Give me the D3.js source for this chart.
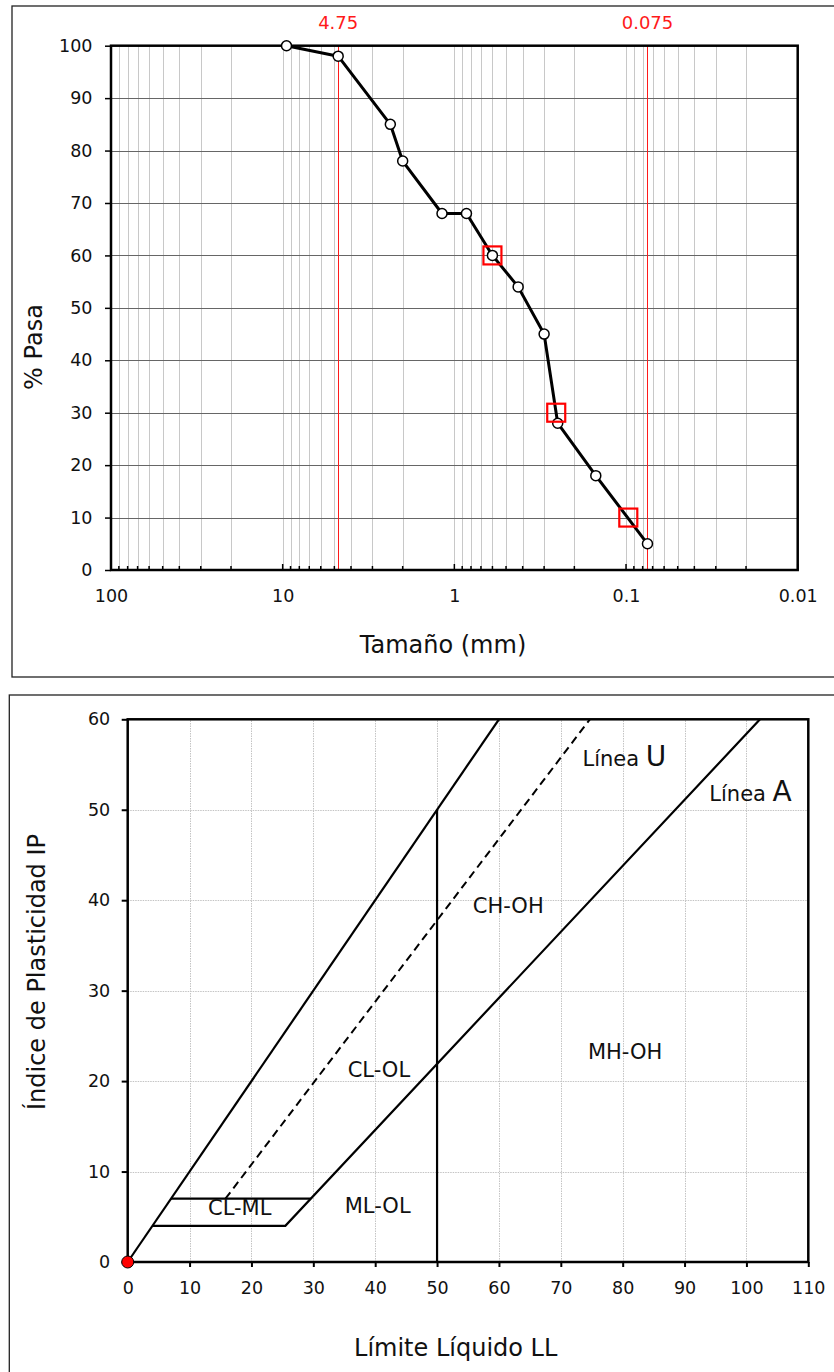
<!DOCTYPE html>
<html>
<head>
<meta charset="utf-8">
<script src="https://cdn.jsdelivr.net/npm/d3@7"></script>
<style>
body { margin: 0; background: #fff; }
text { font-family: "DejaVu Sans", Verdana, sans-serif; }
</style>
</head>
<body>
<script>
// curva granulometrica
var sieveSizes = [9.5, 4.75, 2.36, 2.0, 1.18, 0.85, 0.6, 0.425, 0.3, 0.25, 0.15, 0.075];
var percentPassing = [100, 98, 85, 78, 68, 68, 60, 54, 45, 28, 18, 5];
var dNames = ["D60", "D30", "D10"];
var dSizes = [0.60, 0.255, 0.097];
var dPercent = [60, 30, 10];
var refSizes = [4.75, 0.075];
var refLabels = ["4.75", "0.075"];
var sizeTicks = [100, 10, 1, 0.1, 0.01];
var sizeTickLabels = ["100", "10", "1", "0.1", "0.01"];
var pasaTicks = [0, 10, 20, 30, 40, 50, 60, 70, 80, 90, 100];

// carta de plasticidad
var llTicks = [0, 10, 20, 30, 40, 50, 60, 70, 80, 90, 100, 110];
var ipTicks = [0, 10, 20, 30, 40, 50, 60];
var lineaLimite = [[0, 0], [60, 60]];
var lineaA = [[4, 4], [25.48, 4], [102.2, 60]];
var lineaCLML = [[7, 7], [29.6, 7]];
var lineaU = [[15.8, 7], [74.7, 60]];
var linea50 = [[50, 0], [50, 50]];
var zoneNames = ["CH-OH", "MH-OH", "CL-OL", "ML-OL", "CL-ML"];
var zoneLL = [61.5, 80.4, 40.6, 40.4, 18.1];
var zoneIP = [39.4, 23.3, 21.3, 6.3, 6.0];
var muestraLL = [0];
var muestraIP = [0];

var svg = d3.select("body").append("svg")
    .attr("width", 834)
    .attr("height", 1372);

var tickFont = "17.5px";
var titleFont = "24px";

// ---------- grafico 1 ----------
svg.append("rect")
    .attr("x", 12).attr("y", 6)
    .attr("width", 900).attr("height", 671)
    .attr("fill", "none").attr("stroke", "#222").attr("stroke-width", 1.3);

var x1 = d3.scaleLog().domain([100, 0.01]).range([111, 797.7]);
var y1 = d3.scaleLinear().domain([0, 100]).range([570, 45.7]);

var g1 = svg.append("g");

// rejilla vertical (log)
g1.append("g").selectAll("line")
    .data(x1.ticks())
    .enter().append("line")
    .attr("x1", function(d) { return Math.round(x1(d)) + 0.5; })
    .attr("x2", function(d) { return Math.round(x1(d)) + 0.5; })
    .attr("y1", y1(0)).attr("y2", y1(100))
    .attr("stroke", "#c8c8c8").attr("stroke-width", 1);

// rejilla horizontal
g1.append("g").selectAll("line")
    .data(pasaTicks.slice(1, -1))
    .enter().append("line")
    .attr("x1", x1(100)).attr("x2", x1(0.01))
    .attr("y1", function(d) { return Math.round(y1(d)) + 0.5; })
    .attr("y2", function(d) { return Math.round(y1(d)) + 0.5; })
    .attr("stroke", "#666").attr("stroke-width", 1);

// marcas del eje x hacia adentro
g1.append("g").selectAll("line")
    .data(x1.ticks())
    .enter().append("line")
    .attr("x1", function(d) { return x1(d); })
    .attr("x2", function(d) { return x1(d); })
    .attr("y1", y1(0))
    .attr("y2", function(d) {
        var major = sizeTicks.indexOf(+d.toPrecision(3)) >= 0;
        return y1(0) - (major ? 6 : 4);
    })
    .attr("stroke", "#000").attr("stroke-width", 1.5);

// lineas rojas 4.75 y 0.075
g1.append("g").selectAll("line")
    .data(refSizes)
    .enter().append("line")
    .attr("x1", function(d) { return Math.round(x1(d)) + 0.5; })
    .attr("x2", function(d) { return Math.round(x1(d)) + 0.5; })
    .attr("y1", y1(0)).attr("y2", y1(100))
    .attr("stroke", "#ff1a1a").attr("stroke-width", 1);

g1.append("g").selectAll("text")
    .data(refSizes)
    .enter().append("text")
    .attr("x", function(d) { return x1(d); })
    .attr("y", 29)
    .attr("text-anchor", "middle")
    .style("font-size", "18px")
    .attr("fill", "#ff1a1a")
    .text(function(d, i) { return refLabels[i]; });

// ejes
var xAxis1 = d3.axisBottom(x1).tickValues(sizeTicks)
    .tickFormat(function(d, i) { return sizeTickLabels[i]; })
    .tickSize(0).tickPadding(19.5);
var xAxis1G = g1.append("g")
    .attr("transform", "translate(0," + y1(0) + ")")
    .call(xAxis1);

var yAxis1 = d3.axisLeft(y1).tickValues(pasaTicks).tickSize(6).tickPadding(12.5);
var yAxis1G = g1.append("g")
    .attr("transform", "translate(" + x1(100) + ",0)")
    .call(yAxis1);

[xAxis1G, yAxis1G].forEach(function(a) {
    a.select(".domain").remove();
    a.selectAll("text").style("font-size", tickFont).attr("fill", "#111");
    a.selectAll("line").attr("stroke", "#000").attr("stroke-width", 1.5);
});

// marco del area de trazado
g1.append("rect")
    .attr("x", x1(100)).attr("y", y1(100))
    .attr("width", x1(0.01) - x1(100)).attr("height", y1(0) - y1(100))
    .attr("fill", "none").attr("stroke", "#000").attr("stroke-width", 2.5);

// curva
var curve = sieveSizes.map(function(s, i) { return [s, percentPassing[i]]; });
g1.append("path")
    .datum(curve)
    .attr("d", d3.line()
        .x(function(d) { return x1(d[0]); })
        .y(function(d) { return y1(d[1]); }))
    .attr("fill", "none").attr("stroke", "#000")
    .attr("stroke-width", 3).attr("stroke-linejoin", "round");

g1.append("g").selectAll("circle")
    .data(curve)
    .enter().append("circle")
    .attr("cx", function(d) { return x1(d[0]); })
    .attr("cy", function(d) { return y1(d[1]); })
    .attr("r", 5)
    .attr("fill", "#fff").attr("stroke", "#000").attr("stroke-width", 1.5);

// D60, D30, D10
g1.append("g").selectAll("rect")
    .data(dNames)
    .enter().append("rect")
    .attr("x", function(d, i) { return x1(dSizes[i]) - 9; })
    .attr("y", function(d, i) { return y1(dPercent[i]) - 9; })
    .attr("width", 18).attr("height", 18)
    .attr("fill", "none").attr("stroke", "#ff0000").attr("stroke-width", 2.2);

g1.append("text")
    .attr("transform", "translate(42,347) rotate(-90)")
    .attr("text-anchor", "middle")
    .style("font-size", titleFont)
    .attr("fill", "#111")
    .text("% Pasa");

g1.append("text")
    .attr("x", 443).attr("y", 653)
    .attr("text-anchor", "middle")
    .style("font-size", titleFont)
    .attr("fill", "#111")
    .text("Tamaño (mm)");

// ---------- grafico 2 ----------
svg.append("rect")
    .attr("x", 9.3).attr("y", 695)
    .attr("width", 900).attr("height", 700)
    .attr("fill", "none").attr("stroke", "#222").attr("stroke-width", 1.3);

var x2 = d3.scaleLinear().domain([0, 110]).range([127.7, 808.3]);
var y2 = d3.scaleLinear().domain([0, 60]).range([1262, 719.3]);
var g2 = svg.append("g");

g2.append("g").selectAll("line")
    .data(llTicks.slice(1, -1))
    .enter().append("line")
    .attr("x1", function(d) { return Math.round(x2(d)) + 0.5; })
    .attr("x2", function(d) { return Math.round(x2(d)) + 0.5; })
    .attr("y1", y2(0)).attr("y2", y2(60))
    .attr("stroke", "#c4c4c4").attr("stroke-width", 1).attr("stroke-dasharray", "1.5,1");

g2.append("g").selectAll("line")
    .data(ipTicks.slice(1, -1))
    .enter().append("line")
    .attr("x1", x2(0)).attr("x2", x2(110))
    .attr("y1", function(d) { return Math.round(y2(d)) + 0.5; })
    .attr("y2", function(d) { return Math.round(y2(d)) + 0.5; })
    .attr("stroke", "#c4c4c4").attr("stroke-width", 1).attr("stroke-dasharray", "1.5,1");

var xAxis2G = g2.append("g")
    .attr("transform", "translate(0," + y2(0) + ")")
    .call(d3.axisBottom(x2).tickValues(llTicks).tickSize(5).tickPadding(14.5));
var yAxis2G = g2.append("g")
    .attr("transform", "translate(" + x2(0) + ",0)")
    .call(d3.axisLeft(y2).tickValues(ipTicks).tickSize(6).tickPadding(11.5));

[xAxis2G, yAxis2G].forEach(function(a) {
    a.select(".domain").remove();
    a.selectAll("text").style("font-size", tickFont).attr("fill", "#111");
    a.selectAll("line").attr("stroke", "#000").attr("stroke-width", 2);
});

g2.append("rect")
    .attr("x", x2(0)).attr("y", y2(60))
    .attr("width", x2(110) - x2(0)).attr("height", y2(0) - y2(60))
    .attr("fill", "none").attr("stroke", "#000").attr("stroke-width", 2.5);

var line2 = d3.line()
    .x(function(d) { return x2(d[0]); })
    .y(function(d) { return y2(d[1]); });

[lineaLimite, lineaA, lineaCLML, linea50].forEach(function(l) {
    g2.append("path").datum(l)
        .attr("d", line2)
        .attr("fill", "none").attr("stroke", "#000").attr("stroke-width", 2.2);
});

g2.append("path").datum(lineaU)
    .attr("d", line2)
    .attr("fill", "none").attr("stroke", "#000").attr("stroke-width", 2)
    .attr("stroke-dasharray", "8,5");

g2.append("g").selectAll("text")
    .data(zoneNames)
    .enter().append("text")
    .attr("x", function(d, i) { return x2(zoneLL[i]); })
    .attr("y", function(d, i) { return y2(zoneIP[i]); })
    .attr("dy", "0.36em")
    .attr("text-anchor", "middle")
    .style("font-size", "21px")
    .attr("fill", "#111")
    .text(function(d) { return d; });

var lu = g2.append("text")
    .attr("x", x2(73.5)).attr("y", y2(54.8))
    .style("font-size", "21px").attr("fill", "#111");
lu.append("tspan").text("Línea ");
lu.append("tspan").style("font-size", "28px").text("U");

var la = g2.append("text")
    .attr("x", x2(94)).attr("y", y2(51))
    .style("font-size", "21px").attr("fill", "#111");
la.append("tspan").text("Línea ");
la.append("tspan").style("font-size", "28px").text("A");

g2.append("g").selectAll("circle")
    .data(muestraLL)
    .enter().append("circle")
    .attr("cx", function(d) { return x2(d); })
    .attr("cy", function(d, i) { return y2(muestraIP[i]); })
    .attr("r", 6)
    .attr("fill", "#ff0000").attr("stroke", "#000").attr("stroke-width", 1);

g2.append("text")
    .attr("transform", "translate(45,972) rotate(-90)")
    .attr("text-anchor", "middle")
    .style("font-size", titleFont)
    .attr("fill", "#111")
    .text("Índice de Plasticidad IP");

g2.append("text")
    .attr("x", 455.7).attr("y", 1356)
    .attr("text-anchor", "middle")
    .style("font-size", titleFont)
    .attr("fill", "#111")
    .text("Límite Líquido LL");
</script>
</body>
</html>
